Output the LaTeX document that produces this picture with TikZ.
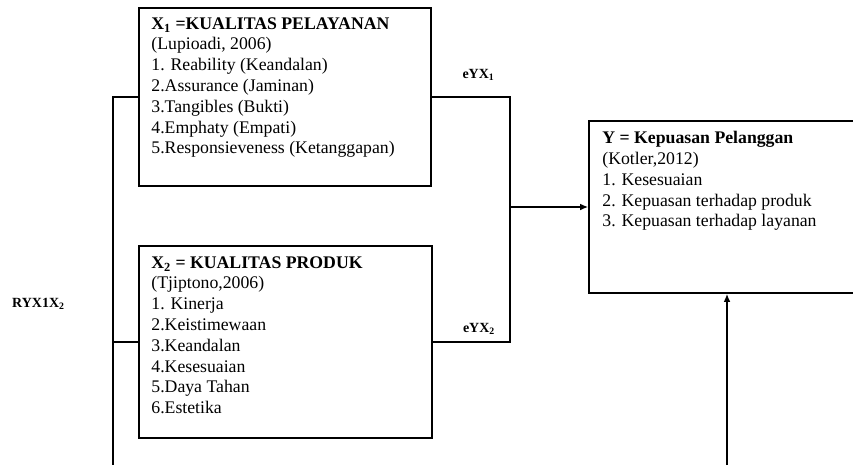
\documentclass[tikz,border=0pt]{standalone}
\usepackage{fontspec}
\setmainfont{Liberation Serif}
\usepackage{tikz}
\usetikzlibrary{arrows.meta,positioning,calc}
\tikzset{
  varbox/.style={draw=black,line width=1.3pt,fill=white,inner sep=0pt},
  vartext/.style={anchor=north west,align=left,inner sep=0pt,font=\fontsize{13.3}{15.6}\selectfont},
  link/.style={draw=black,line width=1pt},
  arrow/.style={link,-{Latex[length=6pt,width=5pt]}},
  coef/.style={font=\fontsize{10.5}{12}\selectfont\bfseries,inner sep=0pt}
}
\begin{document}
\begin{tikzpicture}[x=0.75pt,y=-0.75pt]
  \useasboundingbox (0,0) rectangle (853,465);
  \clip (0,0) rectangle (853,465);
  % boxes
  \node[varbox,minimum width=219pt,minimum height=133.5pt] (x1) at (285,97) {};
  \node[varbox,minimum width=219.75pt,minimum height=144pt] (x2) at (285.5,342) {};
  \node[varbox,minimum width=225pt,minimum height=129pt] (y) at (739,207) {};
  \node[vartext] (x1txt) at ([shift={(13,10)}]x1.north west) {\textbf{X\textsubscript{1} =KUALITAS PELAYANAN}\\(Lupioadi, 2006)\\1. Reability (Keandalan)\\2.Assurance (Jaminan)\\3.Tangibles (Bukti)\\4.Emphaty (Empati)\\5.Responsieveness (Ketanggapan)};
  \node[vartext] (x2txt) at ([shift={(13,11)}]x2.north west) {\textbf{X\textsubscript{2} = KUALITAS PRODUK}\\(Tjiptono,2006)\\1. Kinerja\\2.Keistimewaan\\3.Keandalan\\4.Kesesuaian\\5.Daya Tahan\\6.Estetika};
  \node[vartext] (ytxt) at ([shift={(14,11)}]y.north west) {\textbf{Y = Kepuasan Pelanggan}\\(Kotler,2012)\\1. Kesesuaian\\2. Kepuasan terhadap produk\\3. Kepuasan terhadap layanan};
  % coefficients
  \node[coef] (e1) at (478.5,75) {eYX\textsubscript{1}};
  \node[coef] (e2) at (479,329) {eYX\textsubscript{2}};
  \node[coef] (r12) at (38.5,304) {RYX1X\textsubscript{2}};
  % connectors
  \coordinate (lft) at (113,465);
  \coordinate (jn) at (510,207);
  \coordinate (ybot) at (727,465);
  \draw[link] (x1.west) -| (lft);
  \draw[link] (x2.west) -- (x2.west -| lft);
  \draw[link] (x1.east) -| (jn);
  \draw[link] (x2.east) -| (jn);
  \draw[arrow] (jn) -- (y.west);
  \draw[arrow] (ybot) -- (ybot |- y.south);
\end{tikzpicture}
\end{document}
